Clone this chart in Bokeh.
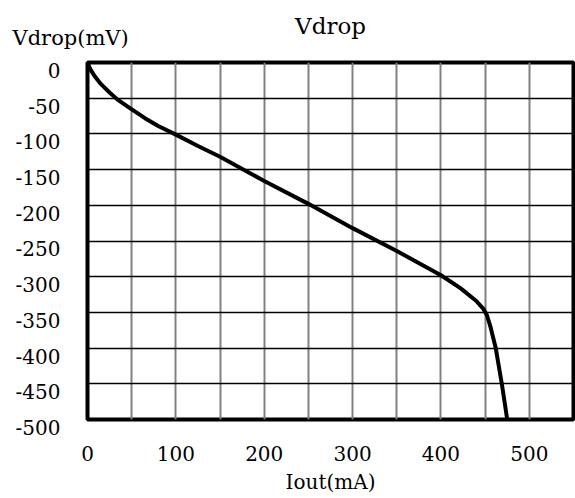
from bokeh.plotting import figure
from bokeh.models import Range1d, FixedTicker, Label
from bokeh.embed import file_html
from bokeh.resources import INLINE

# Data
iout_ma = [0, 2, 4, 8, 15, 25, 34, 48, 65, 80, 100, 125, 150, 200, 250, 300, 350, 400, 422, 440, 448, 452, 456, 462, 469, 475]
vdrop_mv = [0, -6, -11, -19, -30, -42, -52, -64, -78, -89, -101, -117, -132, -166, -198, -232, -264, -298, -316, -334, -345, -354, -370, -400, -451, -500]

x_ticks = [0, 100, 200, 300, 400, 500]
y_ticks = [0, -50, -100, -150, -200, -250, -300, -350, -400, -450, -500]
y_tick_labels = ["0", "-50", "-100", "-150", "-200", "-250", "-300", "-350", "-400", "-450", "-500"]
x_grid = [0, 50, 100, 150, 200, 250, 300, 350, 400, 450, 500, 550]

FONT = "DejaVu Serif"

p = figure(frame_width=486, frame_height=357, output_backend="svg", toolbar_location=None,
           x_range=Range1d(0, 550), y_range=Range1d(-500, 0),
           min_border_left=87, min_border_right=2, min_border_top=62, min_border_bottom=79)

p.title.text = "Vdrop"
p.title.align = "center"
p.title.text_font = FONT
p.title.text_font_size = "23px"
p.title.text_font_style = "normal"
p.title.text_color = "black"
p.title.standoff = 0
p.title.text_line_height = 1.0

p.line(iout_ma, vdrop_mv, line_color="black", line_width=4, line_join="round")

p.outline_line_color = "black"
p.outline_line_width = 4

p.xgrid.ticker = FixedTicker(ticks=x_grid)
p.xgrid.grid_line_color = "#808080"
p.xgrid.grid_line_width = 2
p.ygrid.ticker = FixedTicker(ticks=y_ticks)
p.ygrid.grid_line_color = "black"
p.ygrid.grid_line_width = 1.5

for ax in (p.xaxis[0], p.yaxis[0]):
    ax.axis_line_color = None
    ax.major_tick_line_color = None
    ax.minor_tick_line_color = None
    ax.major_label_text_font = FONT
    ax.major_label_text_font_size = "20px"
    ax.major_label_text_color = "black"

p.xaxis.ticker = FixedTicker(ticks=x_ticks)
p.xaxis.major_label_standoff = 20
p.xaxis.axis_label = "Iout(mA)"
p.xaxis.axis_label_text_font = FONT
p.xaxis.axis_label_text_font_size = "20px"
p.xaxis.axis_label_text_font_style = "normal"
p.xaxis.axis_label_text_color = "black"
p.xaxis.axis_label_standoff = 6

# y tick labels sit a little below their grid lines in the reference
p.yaxis.ticker = FixedTicker(ticks=y_ticks)
p.yaxis.major_label_standoff = 21
p.yaxis.major_label_overrides = {v: "\n" + s for v, s in zip(y_ticks, y_tick_labels)}
p.yaxis.major_label_text_line_height = 0.70

ylab = Label(x=-75, y=25, x_units="screen", y_units="screen", text="Vdrop(mV)",
             text_font=FONT, text_font_size="21px", text_baseline="middle",
             text_align="left", text_color="black")
p.add_layout(ylab, "above")

open("out.html", "w").write(file_html(p, INLINE))
